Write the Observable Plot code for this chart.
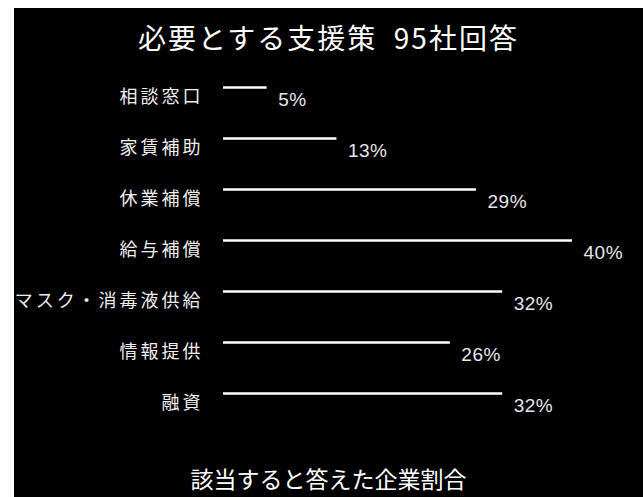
<!DOCTYPE html>
<html>
<head>
<meta charset="utf-8">
<script src="https://cdn.jsdelivr.net/npm/d3@7"></script>
<script src="https://cdn.jsdelivr.net/npm/@observablehq/plot@0.6"></script>
<style>
  html, body { margin: 0; padding: 0; background: #fff; width: 643px; height: 497px; overflow: hidden; }
  #panel { position: absolute; left: 14px; top: 8px; width: 629px; height: 489px; background: #000; }
  #title { position: absolute; left: 0; top: 0; width: 629px; height: 58px; line-height: 58px; text-align: center;
    color: #fff; font-family: "Noto Sans CJK JP", sans-serif; font-size: 28px; letter-spacing: 2px; }
  #chart { position: absolute; left: 0; top: 60px; }
  #caption { position: absolute; left: 0; top: 452px; width: 629px; height: 36px; line-height: 36px; text-align: center;
    color: #fff; font-family: "Noto Sans CJK JP", sans-serif; font-size: 23px; }
</style>
</head>
<body>
<div id="panel">
  <div id="title">必要とする支援策&nbsp;&nbsp;95社回答</div>
  <div id="chart"></div>
  <div id="caption">該当すると答えた企業割合</div>
</div>
<script>
const categories = ["相談窓口", "家賃補助", "休業補償", "給与補償", "マスク・消毒液供給", "情報提供", "融資"];
const values = [5, 13, 29, 40, 32, 26, 32];
const data = categories.map((c, i) => ({name: c, value: values[i]}));

const chart = Plot.plot({
  width: 629,
  height: 380,
  marginLeft: 209,
  marginRight: 71,
  marginTop: 19,
  marginBottom: 55,
  style: {background: "black", color: "white", overflow: "visible"},
  x: {domain: [0, 40], axis: null},
  y: {type: "point", domain: categories, padding: 0, axis: null},
  marks: [
    Plot.ruleY(data, {y: "name", x1: 0, x2: "value", stroke: "white", strokeWidth: 2.5}),
    Plot.text(data, {
      y: "name", x: 0, text: "name", textAnchor: "end", dx: -20, dy: 10,
      fill: "#eeeeee", fontSize: 18, fontFamily: "Noto Sans CJK JP"
    }),
    Plot.text(data, {
      y: "name", x: "value", text: d => d.value + "%", textAnchor: "start", dx: 11, dy: 12,
      fill: "#e6e6e6", fontSize: 19, fontFamily: "Liberation Sans"
    })
  ]
});
const textGroups = chart.querySelectorAll('g[aria-label="text"]');
if (textGroups.length) textGroups[0].style.letterSpacing = "3px";
if (textGroups.length > 1) textGroups[1].style.letterSpacing = "0.5px";
document.getElementById("chart").appendChild(chart);
</script>
</body>
</html>
